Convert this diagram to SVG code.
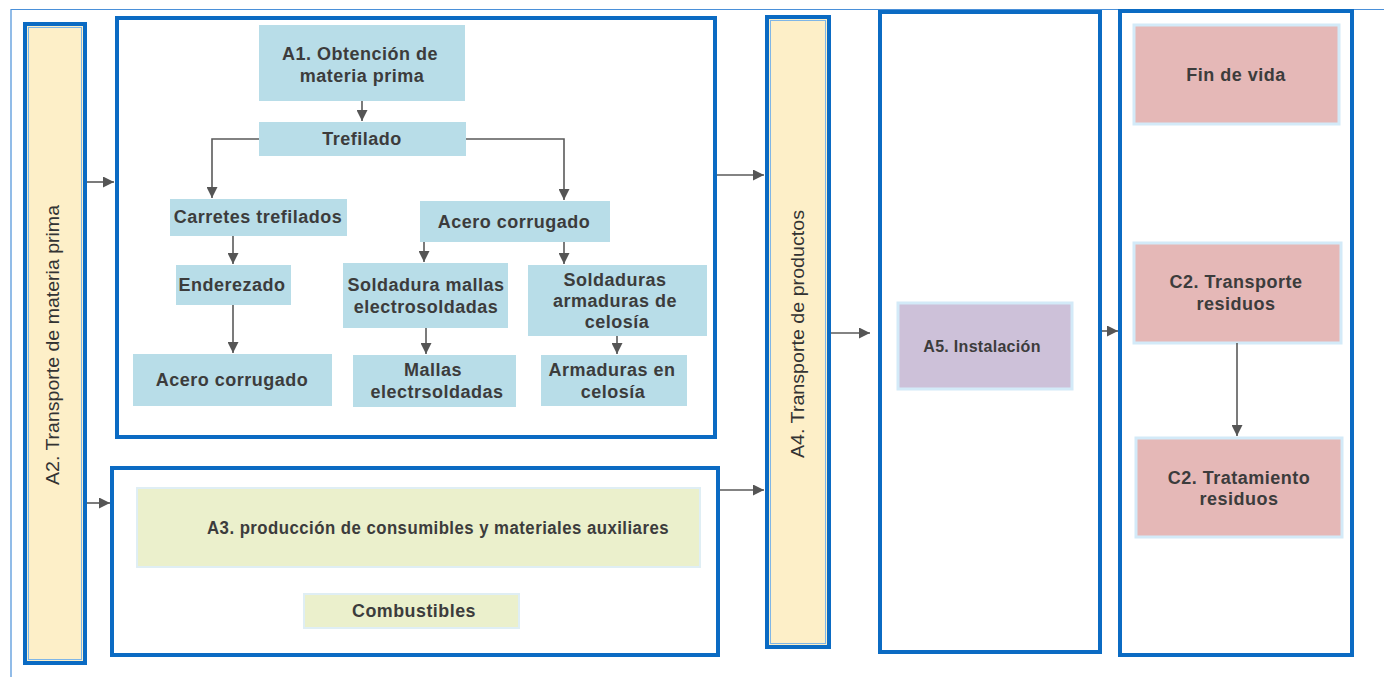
<svg xmlns="http://www.w3.org/2000/svg" width="1384" height="677" viewBox="0 0 1384 677">
<defs>
<style>
.frame{fill:#fff;stroke:#0b6bc3;stroke-width:4}
.bar{fill:#fdefc8;stroke:#0b6bc3;stroke-width:4}
.inner{fill:none;stroke:#7fb6e6;stroke-width:1}
.n{fill:#b8dde8}
.g{fill:#ebf0cc;stroke:#dfeef4;stroke-width:2}
.p{fill:#cdc1d9;stroke:#d3eaf8;stroke-width:3}
.r{fill:#e5b8b7;stroke:#d3eaf8;stroke-width:3}
.t{font-family:"Liberation Sans",Arial,sans-serif;font-weight:bold;font-size:18px;letter-spacing:0.5px;fill:#3c3c3c;text-anchor:middle}
.v{font-family:"Liberation Sans",Arial,sans-serif;font-size:18px;fill:#333;text-anchor:middle}
.c{stroke:#5a5a5a;stroke-width:1.6;fill:none;marker-end:url(#ah)}
</style>
<marker id="ah" markerUnits="userSpaceOnUse" markerWidth="11" markerHeight="11" viewBox="0 0 10 10" refX="10" refY="5" orient="auto">
<path d="M0,0 L10,5 L0,10 z" fill="#555"/>
</marker>
</defs>
<rect width="1384" height="677" fill="#fff"/>
<path d="M11,677 L11,9.5 L1384,9.5" fill="none" stroke="#4a90d9" stroke-width="1.2"/>

<g id="A2">
<rect class="bar" x="25" y="24" width="60" height="639"/>
<rect class="inner" x="28.5" y="27.5" width="53" height="632"/>
<text class="v" transform="translate(59,345) rotate(-90)" textLength="280" lengthAdjust="spacingAndGlyphs">A2. Transporte de materia prima</text>
</g>

<g id="A1group">
<rect class="frame" x="117" y="18" width="598" height="419"/>
</g>
<g id="A3group">
<rect class="frame" x="112" y="468" width="606" height="187"/>
</g>

<g id="A4">
<rect class="bar" x="767" y="17" width="62" height="630"/>
<rect class="inner" x="770.5" y="20.5" width="55" height="623"/>
<text class="v" transform="translate(804,334) rotate(-90)" textLength="248" lengthAdjust="spacingAndGlyphs">A4. Transporte de productos</text>
</g>

<g id="A5group">
<rect class="frame" x="880" y="12" width="220" height="640"/>
</g>
<g id="Cgroup">
<rect class="frame" x="1120" y="11" width="232" height="644"/>
</g>

<g id="n-a1"><rect class="n" x="259" y="25" width="206" height="76"/>
<text class="t" x="360" y="60">A1. Obtención de</text><text class="t" x="362" y="82">materia prima</text></g>
<g id="n-trefilado"><rect class="n" x="259" y="122" width="207" height="34"/>
<text class="t" x="362" y="145">Trefilado</text></g>
<g id="n-carretes"><rect class="n" x="170" y="199" width="177" height="37"/>
<text class="t" x="258" y="223">Carretes trefilados</text></g>
<g id="n-acero-r"><rect class="n" x="420" y="201" width="190" height="41"/>
<text class="t" x="514" y="228">Acero corrugado</text></g>
<g id="n-enderezado"><rect class="n" x="176" y="265" width="115" height="40"/>
<text class="t" x="232" y="291">Enderezado</text></g>
<g id="n-soldadura-mallas"><rect class="n" x="343" y="263" width="165" height="65"/>
<text class="t" x="426" y="291">Soldadura mallas</text><text class="t" x="426" y="313">electrosoldadas</text></g>
<g id="n-soldaduras-arm"><rect class="n" x="528" y="265" width="179" height="71"/>
<text class="t" x="615" y="286">Soldaduras</text><text class="t" x="615" y="307">armaduras de</text><text class="t" x="617" y="328">celosía</text></g>
<g id="n-acero-l"><rect class="n" x="133" y="354" width="199" height="52"/>
<text class="t" x="232" y="386">Acero corrugado</text></g>
<g id="n-mallas"><rect class="n" x="353" y="355" width="163" height="52"/>
<text class="t" x="433" y="376">Mallas</text><text class="t" x="437" y="398">electrsoldadas</text></g>
<g id="n-armaduras"><rect class="n" x="541" y="355" width="146" height="51"/>
<text class="t" x="612" y="376">Armaduras en</text><text class="t" x="613" y="398">celosía</text></g>

<g id="n-a3"><rect class="g" x="137" y="488" width="563" height="79"/>
<text class="t" x="438" y="534" textLength="462" lengthAdjust="spacingAndGlyphs">A3. producción de consumibles y materiales auxiliares</text></g>
<g id="n-combustibles"><rect class="g" x="304" y="594" width="215" height="34"/>
<text class="t" x="414" y="617" textLength="124" lengthAdjust="spacingAndGlyphs">Combustibles</text></g>

<g id="n-a5"><rect class="p" x="898" y="303" width="174" height="86"/>
<text class="t" x="982" y="352" style="font-size:16px;letter-spacing:0.3px">A5. Instalación</text></g>

<g id="n-fin"><rect class="r" x="1134" y="25" width="205" height="99"/>
<text class="t" x="1236" y="81">Fin de vida</text></g>
<g id="n-c2t"><rect class="r" x="1134" y="243" width="207" height="100"/>
<text class="t" x="1236" y="288">C2. Transporte</text><text class="t" x="1236" y="310">residuos</text></g>
<g id="n-c2r"><rect class="r" x="1136" y="438" width="206" height="99"/>
<text class="t" x="1239" y="484">C2. Tratamiento</text><text class="t" x="1239" y="505">residuos</text></g>

<g id="connectors">
<path class="c" d="M362,101 L362,121"/>
<path class="c" d="M259,139 L212,139 L212,198"/>
<path class="c" d="M466,139 L564,139 L564,200"/>
<path class="c" d="M233,236 L233,264"/>
<path class="c" d="M233,305 L233,353"/>
<path class="c" d="M424,242 L424,262"/>
<path class="c" d="M564,242 L564,264"/>
<path class="c" d="M426,328 L426,354"/>
<path class="c" d="M617,336 L617,354"/>
<path class="c" d="M87,182 L114,182"/>
<path class="c" d="M87,503 L110,503"/>
<path class="c" d="M717,175 L764,175"/>
<path class="c" d="M720,490 L764,490"/>
<path class="c" d="M831,333 L870,333"/>
<path class="c" d="M1102,331 L1118,331"/>
<path class="c" d="M1237,343 L1237,436"/>
</g>
</svg>
